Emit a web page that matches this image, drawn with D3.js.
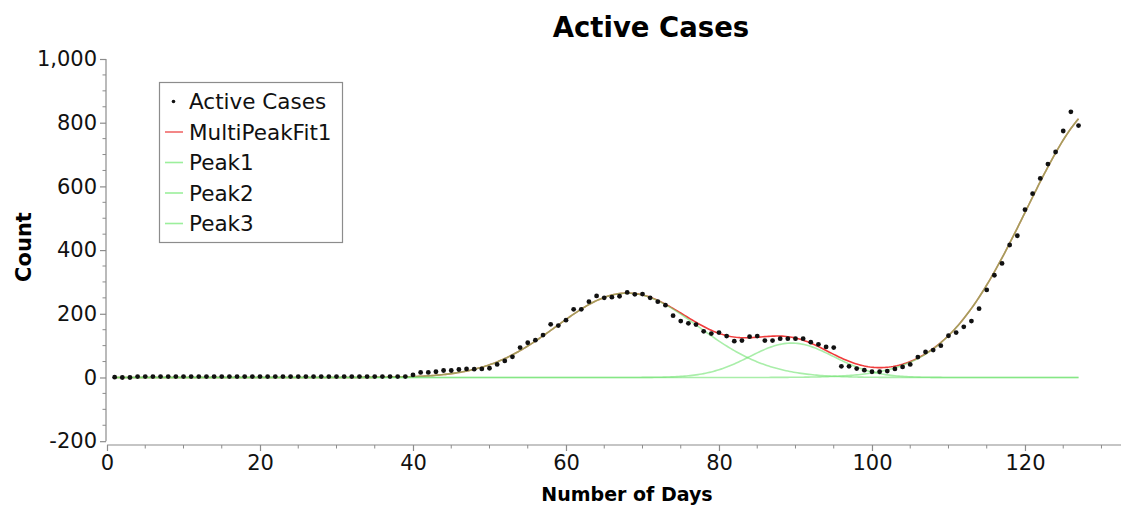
<!DOCTYPE html>
<html>
<head>
<meta charset="utf-8">
<script src="https://cdn.jsdelivr.net/npm/d3@7"></script>
<style>
  html, body { margin: 0; padding: 0; background: #fff; }
  svg { display: block; font-family: "DejaVu Sans", Verdana, sans-serif; }
</style>
</head>
<body>
<svg id="chart" width="1121" height="506"></svg>
<script>
// Daily active case counts, day 1 .. day 127
const days = d3.range(1, 128);
const activeCases = [
  1, 0, 0, 3, 3, 3, 3, 3, 3, 3,
  3, 3, 3, 3, 3, 3, 3, 3, 3, 3,
  3, 3, 3, 3, 3, 3, 3, 3, 3, 3,
  3, 3, 3, 3, 3, 3, 3, 3, 3, 8,
  16, 16, 18, 22, 22, 25, 27, 26, 27, 29,
  41, 52, 65, 94, 109, 117, 133, 167, 163, 180,
  214, 214, 238, 256, 250, 252, 255, 267, 261, 262,
  250, 238, 227, 194, 177, 170, 166, 145, 138, 141,
  130, 114, 116, 128, 130, 116, 116, 122, 122, 122,
  122, 111, 104, 96, 94, 35, 35, 28, 23, 18,
  18, 20, 27, 33, 41, 64, 80, 86, 100, 131,
  141, 159, 177, 216, 275, 321, 358, 416, 445, 527,
  577, 625, 670, 708, 774, 834, 791
];

// Gaussian peak coefficients from the multi-peak fit
const peakNames   = ["Peak1", "Peak2", "Peak3"];
const peakCenters = [68, 89.5, 131];
const peakHeights = [265, 108, 870];
const peakWidths  = [9.25, 5.5, 10.8];   // standard deviation, days
const fitBaseline = 0;

// Axis ticks
const xTicks = [0, 20, 40, 60, 80, 100, 120];
const yTicks = [-200, 0, 200, 400, 600, 800, 1000];

const legendLabels = ["Active Cases", "MultiPeakFit1", "Peak1", "Peak2", "Peak3"];

const svg = d3.select("#chart");

const x = d3.scaleLinear().domain([0, 132.5]).range([107, 1120.6]);
const y = d3.scaleLinear().domain([-212, 1000]).range([445, 59]);

const axisColor = "#8c8c8c";
const fmtComma = d3.format(",");
const yFormat = v => fmtComma(v).replace("\u2212", "-");

// ---- Y axis ----
const yAxisX = 106;
const yAxisG = svg.append("g").attr("transform", `translate(${yAxisX},0)`);
yAxisG.append("line")
  .attr("x1", 0).attr("x2", 0)
  .attr("y1", y(1000)).attr("y2", y(-200))
  .attr("stroke", axisColor).attr("stroke-width", 1.2);
yAxisG.selectAll(".ymin").data(d3.range(-200, 1001, 50).filter(v => v % 200 !== 0))
  .join("line")
  .attr("x1", -3.5).attr("x2", 0)
  .attr("y1", d => y(d)).attr("y2", d => y(d))
  .attr("stroke", axisColor).attr("stroke-width", 1);
const yAx = d3.axisLeft(y).tickValues(yTicks).tickSize(6).tickPadding(3)
  .tickFormat(yFormat);
const yAxInner = yAxisG.append("g").call(yAx);
yAxInner.select(".domain").remove();
yAxInner.selectAll(".tick line").attr("stroke", axisColor).attr("stroke-width", 1.2);
yAxInner.selectAll(".tick text")
  .attr("fill", "#111").style("font-size", "21px")
  .style("font-family", "'DejaVu Sans', Verdana, sans-serif");

// ---- X axis ----
const xAxisY = 445;
const xAxisG = svg.append("g").attr("transform", `translate(0,${xAxisY})`);
xAxisG.append("line")
  .attr("x1", x(0)).attr("x2", 1121)
  .attr("y1", 0).attr("y2", 0)
  .attr("stroke", axisColor).attr("stroke-width", 1.2);
xAxisG.selectAll(".xmin").data(d3.range(0, 133, 5).filter(v => v % 20 !== 0))
  .join("line")
  .attr("x1", d => x(d)).attr("x2", d => x(d))
  .attr("y1", 0).attr("y2", 3.5)
  .attr("stroke", axisColor).attr("stroke-width", 1);
const xAx = d3.axisBottom(x).tickValues(xTicks).tickSize(6).tickPadding(4)
  .tickFormat(d3.format("d"));
const xAxInner = xAxisG.append("g").call(xAx);
xAxInner.select(".domain").remove();
xAxInner.selectAll(".tick line").attr("stroke", axisColor).attr("stroke-width", 1.2);
xAxInner.selectAll(".tick text")
  .attr("fill", "#111").style("font-size", "21px")
  .style("font-family", "'DejaVu Sans', Verdana, sans-serif");

// ---- Fit curves ----
const gauss = (t, i) => peakHeights[i] * Math.exp(-((t - peakCenters[i]) ** 2) / (2 * peakWidths[i] ** 2));
const grid = d3.range(1, 127.0001, 0.25);
const line = d3.line().x(d => x(d[0])).y(d => y(d[1]));

const fitPts = grid.map(t => [t, fitBaseline + peakNames.reduce((s, _, i) => s + gauss(t, i), 0)]);
svg.append("path")
  .datum(fitPts)
  .attr("d", line)
  .attr("fill", "none")
  .attr("stroke", "#f03c3c")
  .attr("stroke-width", 1.6);

peakNames.forEach((name, i) => {
  const pts = grid.map(t => [t, fitBaseline + gauss(t, i)]);
  svg.append("path")
    .datum(pts)
    .attr("class", name)
    .attr("d", line)
    .attr("fill", "none")
    .attr("stroke", "#6fe36f")
    .attr("stroke-opacity", 0.6)
    .attr("stroke-width", 1.6);
});

// ---- Data points ----
svg.append("g").selectAll("circle")
  .data(days.map((d, i) => [d, activeCases[i]]))
  .join("circle")
  .attr("cx", d => x(d[0]))
  .attr("cy", d => y(d[1]))
  .attr("r", 2.4)
  .attr("fill", "#111");

// ---- Title and axis labels ----
svg.append("text")
  .attr("x", 651).attr("y", 37)
  .attr("text-anchor", "middle")
  .style("font-size", "27.5px").style("font-weight", "bold")
  .attr("fill", "#000")
  .text("Active Cases");

svg.append("text")
  .attr("x", 627).attr("y", 501)
  .attr("text-anchor", "middle")
  .style("font-size", "19px").style("font-weight", "bold")
  .attr("fill", "#000")
  .text("Number of Days");

svg.append("text")
  .attr("transform", "translate(31,247) rotate(-90)")
  .attr("text-anchor", "middle")
  .style("font-size", "21px").style("font-weight", "bold")
  .attr("fill", "#000")
  .text("Count");

// ---- Legend ----
const lg = svg.append("g");
lg.append("rect")
  .attr("x", 159.5).attr("y", 82.5).attr("width", 183).attr("height", 160)
  .attr("fill", "#fff").attr("stroke", "#8c8c8c").attr("stroke-width", 1.2);
const rowY = i => 101.5 + i * 30.5;
legendLabels.forEach((lab, i) => {
  if (i === 0) {
    lg.append("circle").attr("cx", 173.5).attr("cy", rowY(i)).attr("r", 1.8).attr("fill", "#111");
  } else {
    lg.append("line")
      .attr("x1", 165).attr("x2", 183)
      .attr("y1", rowY(i)).attr("y2", rowY(i))
      .attr("stroke", i === 1 ? "#f06a6a" : "#9cef9c")
      .attr("stroke-width", 1.6);
  }
  lg.append("text")
    .attr("x", 189).attr("y", rowY(i)).attr("dy", "0.37em")
    .style("font-size", "21.5px").attr("fill", "#111")
    .text(lab);
});
</script>
</body>
</html>
